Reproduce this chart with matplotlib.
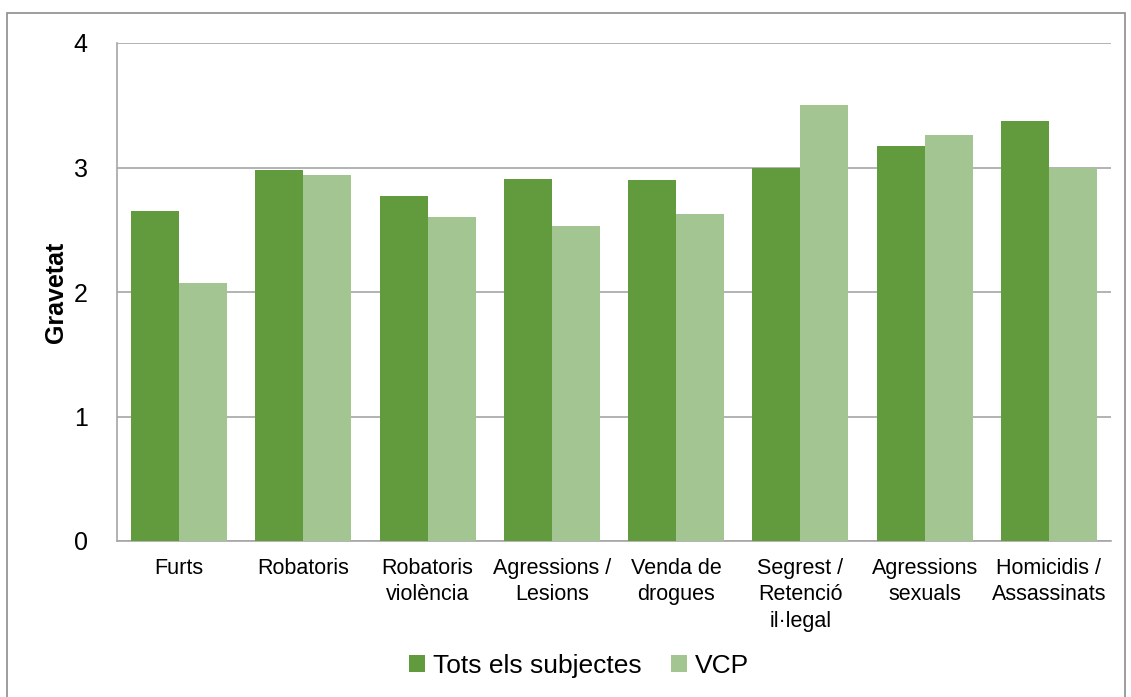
import matplotlib
matplotlib.use("Agg")
import matplotlib.pyplot as plt
import numpy as np
from matplotlib.patches import Rectangle

plt.rcParams['font.family'] = ['Liberation Sans', 'DejaVu Sans']

categories = ["Furts", "Robatoris", "Robatoris\nviolència", "Agressions /\nLesions",
              "Venda de\ndrogues", "Segrest /\nRetenció\nil·legal", "Agressions\nsexuals",
              "Homicidis /\nAssassinats"]
tots = [2.65, 2.98, 2.77, 2.91, 2.90, 3.00, 3.17, 3.37]
vcp = [2.07, 2.94, 2.60, 2.53, 2.63, 3.50, 3.26, 3.00]

dark = "#629A3E"
light = "#A3C592"
grid_col = "#A6A6A6"

fig = plt.figure(figsize=(11.31, 6.97), dpi=100)
ax = fig.add_axes([117 / 1131, 1 - 541 / 697, (1111 - 117) / 1131, (541 - 43) / 697])

x = np.arange(len(categories))
w = 0.386
ax.bar(x - w / 2, tots, w, color=dark, label="Tots els subjectes", zorder=3)
ax.bar(x + w / 2, vcp, w, color=light, label="VCP", zorder=3)

ax.set_xlim(-0.5, len(categories) - 0.5)
ax.set_ylim(0, 4)
ax.set_yticks([0, 1, 2, 3, 4])
ax.yaxis.grid(True, color=grid_col, linewidth=1.2, zorder=0)
ax.set_axisbelow(True)

for s in ["top", "right"]:
    ax.spines[s].set_visible(False)
for s in ["left", "bottom"]:
    ax.spines[s].set_color(grid_col)
    ax.spines[s].set_linewidth(1.2)

ax.set_xticks(x)
ax.set_xticklabels(categories, fontsize=15.5, linespacing=1.35, va="top")
ax.tick_params(axis="x", length=0, pad=12)
ax.tick_params(axis="y", length=0, labelsize=18, pad=21)
ax.set_ylabel("Gravetat", fontsize=18, fontweight="bold", labelpad=4)

ax.legend(loc="center", bbox_to_anchor=(579 / 1131, 1 - 666 / 697), bbox_transform=fig.transFigure,
          ncol=2, frameon=False, fontsize=19, handlelength=0.6, handleheight=0.6,
          handletextpad=0.3, columnspacing=1.1)

fig.patches.append(Rectangle((7 / 1131, -0.01), (1125 - 7) / 1131, (697 - 13) / 697 + 0.01,
                             transform=fig.transFigure, fill=False, edgecolor="#8C8C8C",
                             linewidth=1.2))

fig.savefig("out.png", dpi=100)
